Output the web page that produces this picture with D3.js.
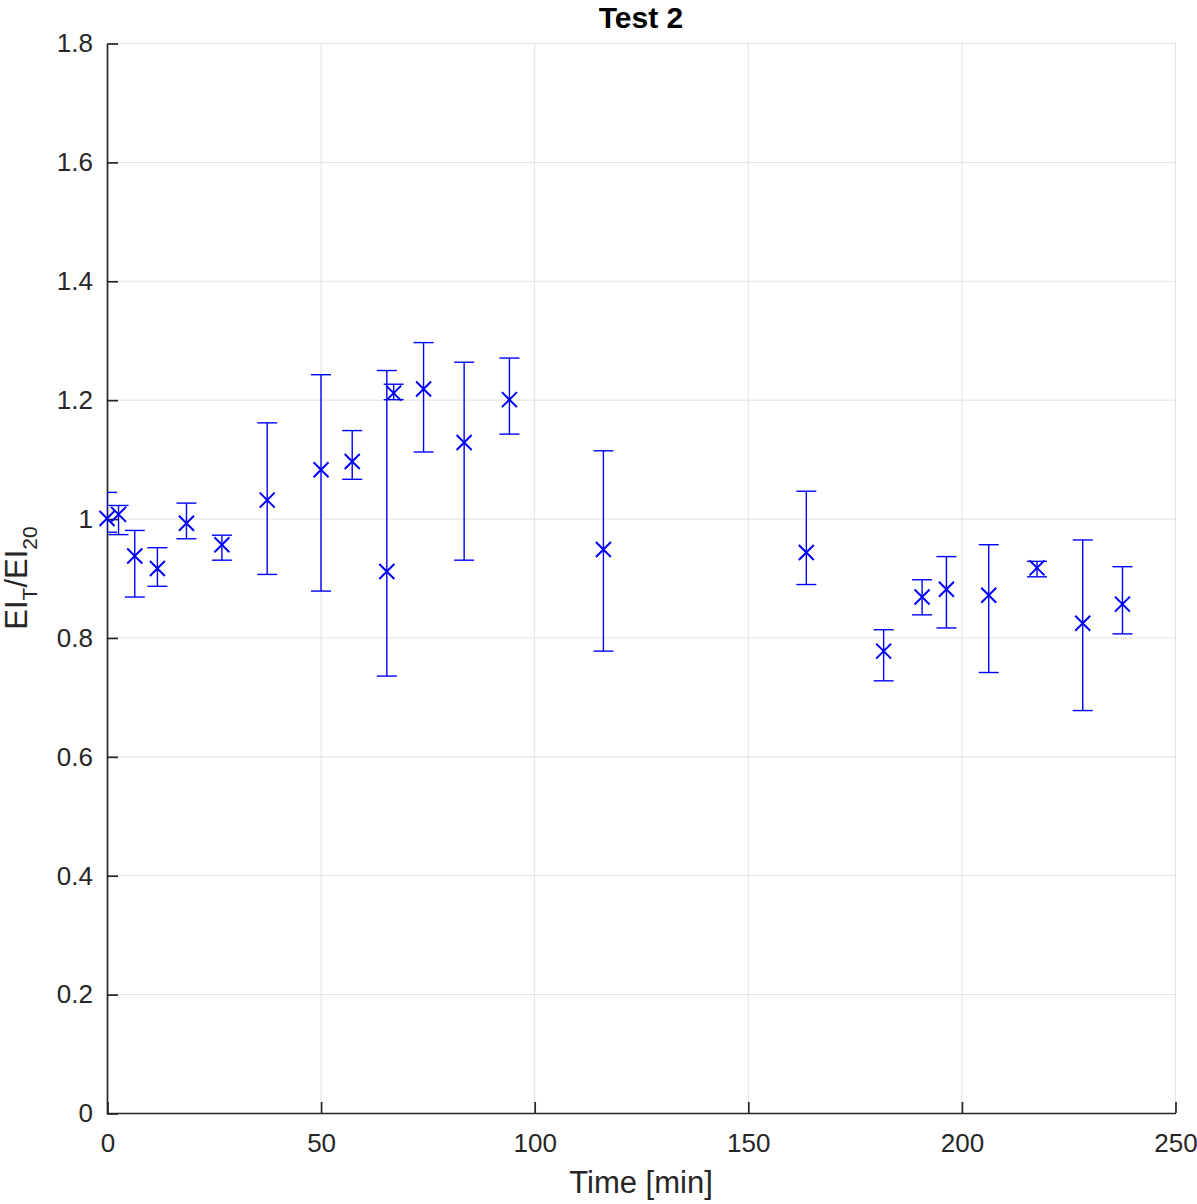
<!DOCTYPE html>
<html>
<head>
<meta charset="utf-8">
<script src="https://cdn.jsdelivr.net/npm/d3@7.9.0/dist/d3.min.js"></script>
<style>
  body { margin: 0; background: #fff; }
  text { font-family: "Liberation Sans", Arial, sans-serif; fill: #262626; }
</style>
</head>
<body>
<div id="chart"></div>
<script>
// values
const time = [0, 2.7, 6.5, 11.8, 18.6, 26.9, 37.5, 50.1, 57.4, 65.5, 67.1, 74.1, 83.6, 94.2,
  116.2, 163.7, 181.8, 190.8, 196.5, 206.4, 217.7, 228.4, 237.7];
const ratio = [1.0, 1.007, 0.937, 0.916, 0.992, 0.956, 1.031, 1.082, 1.096, 0.911, 1.211, 1.218, 1.128, 1.2,
  0.948, 0.943, 0.777, 0.868, 0.881, 0.871, 0.917, 0.824, 0.856];
const upper = [1.044, 1.022, 0.98, 0.951, 1.026, 0.972, 1.161, 1.242, 1.148, 1.249, 1.226, 1.296, 1.263, 1.27,
  1.114, 1.046, 0.813, 0.897, 0.936, 0.956, 0.928, 0.964, 0.919];
const lower = [0.977, 0.973, 0.868, 0.886, 0.966, 0.93, 0.906, 0.878, 1.066, 0.735, 1.2, 1.112, 0.93, 1.142,
  0.777, 0.889, 0.727, 0.838, 0.816, 0.741, 0.902, 0.677, 0.806];
const xTicks = [0, 50, 100, 150, 200, 250];
const yTicks = [0, 0.2, 0.4, 0.6, 0.8, 1, 1.2, 1.4, 1.6, 1.8];

const width = 1197;
const height = 1204;
const margin = { top: 43, right: 22, bottom: 91, left: 107 };
const area = {
  left: margin.left,
  right: width - margin.right,
  top: margin.top,
  bottom: height - margin.bottom,
};

const svg = d3.select('#chart')
  .append('svg')
  .attr('width', width)
  .attr('height', height);

const xScale = d3.scaleLinear().domain([0, 250]).range([area.left, area.right]);
const yScale = d3.scaleLinear().domain([0, 1.8]).range([area.bottom, area.top]);

// grid
const grid = svg.append('g').attr('class', 'grid');
grid.selectAll('line.gx')
  .data(xTicks)
  .join('line')
  .attr('class', 'gx')
  .attr('x1', (d) => xScale(d) + 0.5).attr('x2', (d) => xScale(d) + 0.5)
  .attr('y1', area.top).attr('y2', area.bottom)
  .attr('stroke', '#e1e1e1');
grid.selectAll('line.gy')
  .data(yTicks)
  .join('line')
  .attr('class', 'gy')
  .attr('y1', (d) => yScale(d) + 0.5).attr('y2', (d) => yScale(d) + 0.5)
  .attr('x1', area.left).attr('x2', area.right)
  .attr('stroke', '#e1e1e1');

// axes (ticks pointing inward, like matlab)
const xAxis = d3.axisTop(xScale).tickValues(xTicks).tickSize(11).tickSizeOuter(0).tickFormat(d3.format('d'));
const gx = svg.append('g')
  .attr('transform', `translate(0.5, ${area.bottom})`)
  .call(xAxis);
gx.selectAll('text').attr('y', 39).attr('dy', null).style('font-size', '26px');

const yAxis = d3.axisRight(yScale).tickValues(yTicks).tickSize(11).tickSizeOuter(0).tickFormat((d) => d3.format('~g')(d));
const gy = svg.append('g')
  .attr('transform', `translate(${area.left}, 0.5)`)
  .call(yAxis);
gy.selectAll('text').attr('x', -14).attr('text-anchor', 'end').style('font-size', '26px');

svg.selectAll('.domain, .tick line').attr('stroke', '#262626').attr('stroke-width', 1.7);
svg.selectAll('.tick text').attr('fill', '#262626');

// clip for error-bar caps at the edge
svg.append('clipPath').attr('id', 'clip')
  .append('rect')
  .attr('x', area.left).attr('y', area.top)
  .attr('width', area.right - area.left).attr('height', area.bottom - area.top);

const pts = time.map((t, i) => ({ t, v: ratio[i], hi: upper[i], lo: lower[i] }));
const capW = 10;
const ms = 7.5;

const bars = svg.append('g').attr('clip-path', 'url(#clip)')
  .selectAll('g.bar').data(pts).join('g').attr('class', 'bar')
  .attr('stroke', '#0000ff').attr('stroke-width', 1.4).attr('fill', 'none');
bars.append('line')
  .attr('x1', (d) => xScale(d.t)).attr('x2', (d) => xScale(d.t))
  .attr('y1', (d) => yScale(d.hi)).attr('y2', (d) => yScale(d.lo));
bars.append('line')
  .attr('x1', (d) => xScale(d.t) - capW).attr('x2', (d) => xScale(d.t) + capW)
  .attr('y1', (d) => yScale(d.hi)).attr('y2', (d) => yScale(d.hi));
bars.append('line')
  .attr('x1', (d) => xScale(d.t) - capW).attr('x2', (d) => xScale(d.t) + capW)
  .attr('y1', (d) => yScale(d.lo)).attr('y2', (d) => yScale(d.lo));

svg.append('g')
  .selectAll('path').data(pts).join('path')
  .attr('stroke', '#0000ff').attr('stroke-width', 2).attr('fill', 'none')
  .attr('d', (d) => {
    const x = xScale(d.t), y = yScale(d.v);
    return `M${x - ms},${y - ms}L${x + ms},${y + ms}M${x - ms},${y + ms}L${x + ms},${y - ms}`;
  });

// title and labels
svg.append('text')
  .attr('x', (area.left + area.right) / 2).attr('y', 28)
  .attr('text-anchor', 'middle')
  .style('font-size', '30px').style('font-weight', 'bold')
  .style('fill', '#000')
  .text('Test 2');

svg.append('text')
  .attr('x', (area.left + area.right) / 2).attr('y', 1193)
  .attr('text-anchor', 'middle')
  .style('font-size', '31px')
  .text('Time [min]');

const yl = svg.append('text')
  .attr('transform', `translate(27, ${(area.top + area.bottom) / 2}) rotate(-90)`)
  .attr('text-anchor', 'middle')
  .style('font-size', '31px');
yl.append('tspan').text('EI');
yl.append('tspan').attr('dy', 10).style('font-size', '21px').text('T');
yl.append('tspan').attr('dy', -10).text('/EI');
yl.append('tspan').attr('dy', 10).style('font-size', '21px').text('20');
</script>
</body>
</html>
